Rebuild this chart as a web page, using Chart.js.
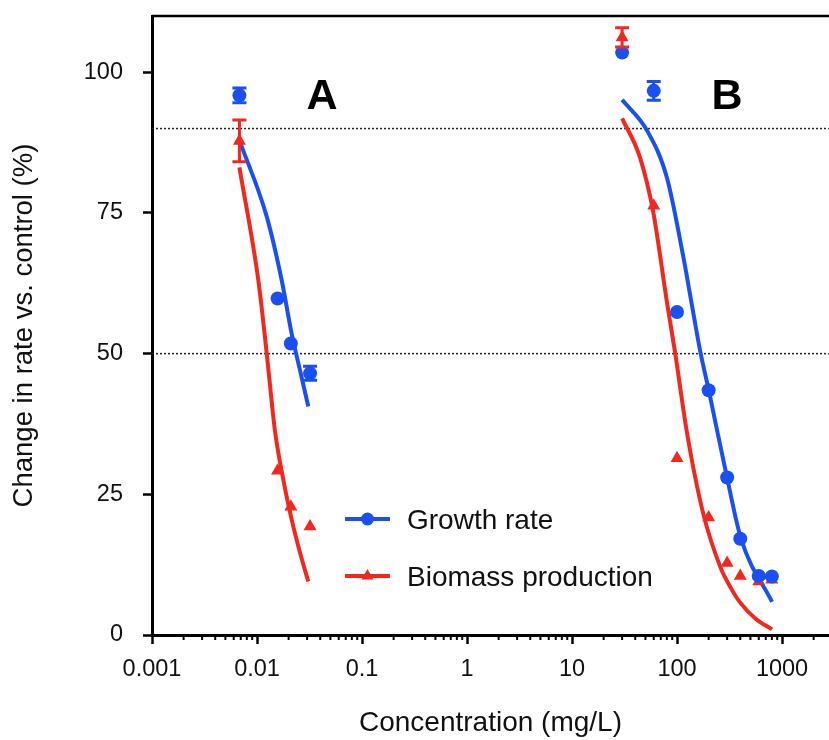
<!DOCTYPE html>
<html>
<head>
<meta charset="utf-8">
<title>Change in rate vs. control</title>
<script src="https://cdn.jsdelivr.net/npm/chart.js@4.4.1/dist/chart.umd.min.js"></script>
<style>
  html, body { margin: 0; padding: 0; background: #fff; overflow: hidden; }
  #wrap { width: 829px; height: 740px; }
</style>
</head>
<body>
<div id="wrap"><canvas id="myChart" width="829" height="740"></canvas></div>
<script>
// measured points: concentration (mg/L) and % of control
var conc = [0.0068, 0.0157, 0.021, 0.032, 30, 60, 100, 200, 300, 400, 600, 800];
var growthRate = [95.9, 59.8, 51.8, 46.5, 103.5, 96.7, 57.4, 43.5, 28.0, 17.1, 10.5, 10.4];
var growthErr = [1.3, 0, 0, 1.25, 0, 1.65, 0, 0, 0, 0, 0, 0];
var biomass = [87.8, 29.2, 22.8, 19.3, 106.2, 76.3, 31.4, 20.9, 12.8, 10.5, 9.5, 9.8];
var biomassErr = [3.7, 0, 0, 0, 1.7, 0, 0, 0, 0, 0, 0, 0];

// fitted curves
var growthFitAx = [0.0068, 0.0124, 0.0172, 0.0214, 0.0257, 0.0308];
var growthFitAy = [87.9, 74.3, 63.0, 53.5, 47.0, 40.6];
var biomassFitAx = [0.0068, 0.0103, 0.0124, 0.0148, 0.0178, 0.0214, 0.0257, 0.0308];
var biomassFitAy = [83.1, 63.0, 49.9, 36.4, 27.6, 20.5, 14.6, 9.5];
var growthFitBx = [30, 52, 80, 114, 142, 166, 202, 299, 407, 803];
var growthFitBy = [95.1, 89.6, 81.3, 67.5, 57.5, 50.5, 43.2, 28.0, 17.1, 5.9];
var biomassFitBx = [30, 44.5, 59, 81, 96, 124.5, 177, 257, 320, 398, 560, 803];
var biomassFitBy = [91.8, 84.8, 75.4, 58.6, 50.1, 35.9, 21.7, 12.2, 8.6, 5.8, 2.9, 1.0];

// reference lines
var refLevels = [50, 90];

// axes
var xMin = 0.001, xMax = 2800;
var xTicks = [0.001, 0.01, 0.1, 1, 10, 100, 1000];
var xTickLabels = ['0.001', '0.01', '0.1', '1', '10', '100', '1000'];
var yTicks = [0, 25, 50, 75, 100];

var blue = '#1a50f2';
var red = '#f0281e';
var font = "'Liberation Sans', Arial, Helvetica, sans-serif";

function pts(xs, ys) {
    return xs.map(function (x, i) { return {x: x, y: ys[i]}; });
}

function fitLine(xs, ys, color) {
    return {
        data: pts(xs, ys),
        borderColor: color,
        borderWidth: 4,
        pointRadius: 0,
        cubicInterpolationMode: 'monotone',
        fill: false,
        order: 1
    };
}

function refLine(level) {
    return {
        data: pts([xMin, xMax], [level, level]),
        borderColor: '#222',
        borderWidth: 1.5,
        borderDash: [2, 2],
        pointRadius: 0,
        fill: false,
        order: 2
    };
}

// vertical error bars with caps
var errorBars = {
    id: 'errorBars',
    afterDatasetsDraw: function (chart) {
        var ctx = chart.ctx, ys = chart.scales.y;
        chart.data.datasets.forEach(function (ds, i) {
            if (!ds.errors) return;
            var meta = chart.getDatasetMeta(i);
            ctx.save();
            ctx.strokeStyle = ds.borderColor;
            ctx.lineWidth = 3;
            meta.data.forEach(function (pt, j) {
                var e = ds.errors[j];
                if (!e) return;
                var v = ds.data[j].y;
                var top = ys.getPixelForValue(v + e);
                var bot = ys.getPixelForValue(v - e);
                ctx.beginPath();
                ctx.moveTo(pt.x, top); ctx.lineTo(pt.x, bot);
                ctx.moveTo(pt.x - 7, top); ctx.lineTo(pt.x + 7, top);
                ctx.moveTo(pt.x - 7, bot); ctx.lineTo(pt.x + 7, bot);
                ctx.stroke();
            });
            ctx.restore();
        });
    }
};

// minor log ticks, top frame line
var axisExtras = {
    id: 'axisExtras',
    afterDraw: function (chart) {
        var ctx = chart.ctx, xs = chart.scales.x, area = chart.chartArea;
        ctx.save();
        ctx.strokeStyle = '#000';
        ctx.lineWidth = 2;
        ctx.beginPath();
        for (var e = -3; e <= 3; e++) {
            for (var k = 2; k <= 9; k++) {
                var v = k * Math.pow(10, e);
                if (v > xs.max) break;
                var px = xs.getPixelForValue(v);
                ctx.moveTo(px, area.bottom);
                ctx.lineTo(px, area.bottom + 5);
            }
        }
        ctx.stroke();
        ctx.lineWidth = 2.5;
        ctx.beginPath();
        ctx.moveTo(area.left, area.top);
        ctx.lineTo(area.right, area.top);
        ctx.stroke();
        ctx.restore();
    }
};

// big "A" / "B" panel letters
var panelLabels = {
    id: 'panelLabels',
    afterDatasetsDraw: function (chart, args, opts) {
        var ctx = chart.ctx, xs = chart.scales.x, ys = chart.scales.y;
        ctx.save();
        ctx.font = opts.font;
        ctx.fillStyle = '#000';
        ctx.textAlign = 'center';
        ctx.textBaseline = 'alphabetic';
        opts.labels.forEach(function (l) {
            ctx.fillText(l.text, xs.getPixelForValue(l.x), ys.getPixelForValue(l.y));
        });
        ctx.restore();
    }
};

// legend drawn inside the plot
var insideLegend = {
    id: 'insideLegend',
    afterDraw: function (chart, args, opts) {
        var ctx = chart.ctx;
        opts.items.forEach(function (item) {
            var ds = chart.data.datasets[item.dataset];
            var y = item.y;
            ctx.save();
            ctx.strokeStyle = ds.borderColor;
            ctx.lineWidth = 4;
            ctx.beginPath();
            ctx.moveTo(opts.x, y);
            ctx.lineTo(opts.x + opts.lineLength, y);
            ctx.stroke();
            ctx.fillStyle = ds.backgroundColor;
            Chart.helpers.drawPoint(ctx, {pointStyle: ds.pointStyle, radius: item.radius, borderWidth: 0, rotation: 0},
                opts.x + opts.lineLength / 2, y);
            ctx.fillStyle = '#111';
            ctx.font = opts.font;
            ctx.textAlign = 'left';
            ctx.textBaseline = 'alphabetic';
            ctx.fillText(ds.label, opts.x + opts.lineLength + opts.gap, y + 9.5);
            ctx.restore();
        });
    }
};

function createChart() {
    var ctx = document.getElementById('myChart').getContext('2d');
    return new Chart(ctx, {
        type: 'line',
        data: {
            datasets: [
                {
                    label: 'Growth rate',
                    data: pts(conc, growthRate),
                    errors: growthErr,
                    showLine: false,
                    pointStyle: 'circle',
                    pointRadius: 7,
                    pointBorderWidth: 0,
                    backgroundColor: blue,
                    borderColor: blue,
                    order: 0
                },
                {
                    label: 'Biomass production',
                    data: pts(conc, biomass),
                    errors: biomassErr,
                    showLine: false,
                    pointStyle: 'triangle',
                    pointRadius: 7.5,
                    pointBorderWidth: 0,
                    backgroundColor: red,
                    borderColor: red,
                    order: 0
                },
                fitLine(growthFitAx, growthFitAy, blue),
                fitLine(biomassFitAx, biomassFitAy, red),
                fitLine(growthFitBx, growthFitBy, blue),
                fitLine(biomassFitBx, biomassFitBy, red),
                refLine(refLevels[0]),
                refLine(refLevels[1])
            ]
        },
        options: {
            responsive: false,
            animation: false,
            events: [],
            layout: { autoPadding: false, padding: { top: 16, left: 0, right: 0, bottom: 0 } },
            plugins: {
                legend: { display: false },
                tooltip: { enabled: false },
                panelLabels: {
                    font: "bold 43px " + font,
                    labels: [
                        { text: 'A', x: 0.0416, y: 93.5 },
                        { text: 'B', x: 299, y: 93.5 }
                    ]
                },
                insideLegend: {
                    x: 345,
                    lineLength: 45,
                    gap: 17,
                    font: "28px " + font,
                    items: [
                        { dataset: 0, y: 519, radius: 6.5 },
                        { dataset: 1, y: 576, radius: 7 }
                    ]
                }
            },
            scales: {
                x: {
                    type: 'logarithmic',
                    min: xMin,
                    max: xMax,
                    afterBuildTicks: function (s) {
                        s.ticks = xTicks.map(function (v) { return {value: v}; });
                    },
                    afterFit: function (s) {
                        s.height = 105;
                        s.paddingRight = 0;
                    },
                    grid: { drawOnChartArea: false, tickLength: 9, tickWidth: 2.5, tickColor: '#000' },
                    border: { color: '#000', width: 3 },
                    ticks: {
                        autoSkip: false,
                        maxRotation: 0,
                        minRotation: 0,
                        padding: 11,
                        color: '#111',
                        font: { family: font, size: 23.5 },
                        callback: function (v, i) { return xTickLabels[i]; }
                    },
                    title: {
                        display: true,
                        text: 'Concentration (mg/L)',
                        color: '#111',
                        font: { family: font, size: 28 },
                        padding: { top: 0, bottom: 0 }
                    }
                },
                y: {
                    type: 'linear',
                    min: 0,
                    max: 110,
                    afterBuildTicks: function (s) {
                        s.ticks = yTicks.map(function (v) { return {value: v}; });
                    },
                    afterFit: function (s) {
                        s.width = 152;
                        s.paddingTop = 0;
                        s.paddingBottom = 0;
                    },
                    grid: { drawOnChartArea: false, tickLength: 9, tickWidth: 2.5, tickColor: '#000' },
                    border: { color: '#000', width: 3 },
                    ticks: {
                        padding: 20,
                        color: '#111',
                        font: { family: font, size: 23.5 }
                    },
                    title: {
                        display: true,
                        text: 'Change in rate vs. control (%)',
                        color: '#111',
                        font: { family: font, size: 27.5 },
                        padding: { top: 8, bottom: 0 }
                    }
                }
            }
        },
        plugins: [errorBars, axisExtras, panelLabels, insideLegend]
    });
}

createChart();
</script>
</body>
</html>
